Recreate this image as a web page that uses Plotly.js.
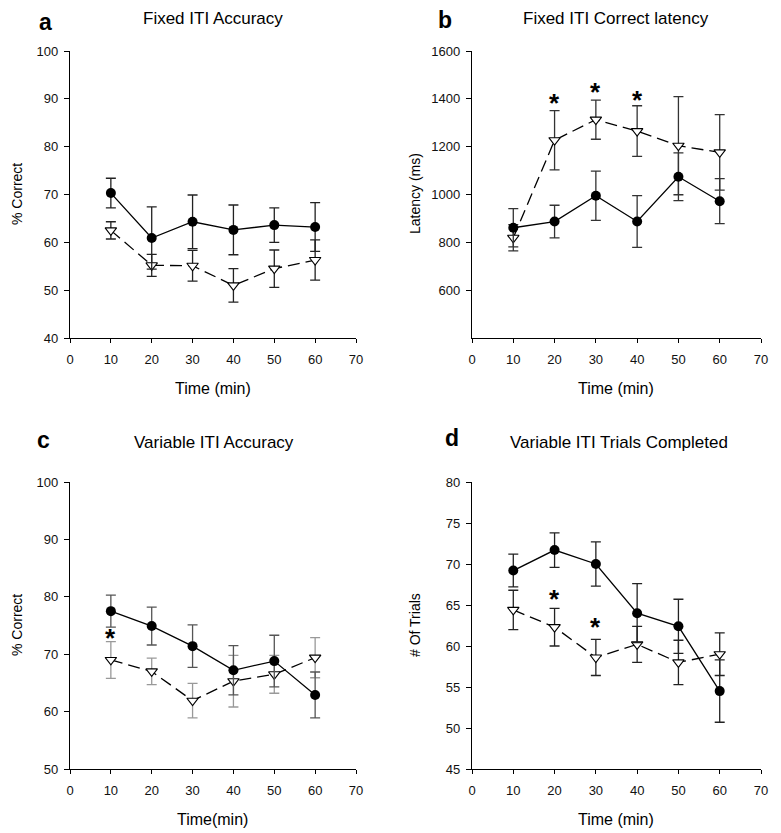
<!DOCTYPE html>
<html>
<head>
<meta charset="utf-8">
<script src="https://cdn.plot.ly/plotly-3.0.1.min.js"></script>
<style>html,body{margin:0;padding:0;background:#fff;}#chart{width:781px;height:833px;}</style>
</head>
<body>
<div id="chart"></div>
<script>
// ---- data ----
var timeMin = [10, 20, 30, 40, 50, 60];

// a: Fixed ITI Accuracy (% correct)
var aCircle = [70.3, 60.9, 64.3, 62.6, 63.6, 63.2];
var aCircleErr = [3.1, 6.5, 5.6, 5.2, 3.6, 5.1];
var aTriangle = [62.5, 55.2, 55.1, 51.0, 54.5, 56.3];
var aTriangleErr = [1.8, 2.3, 3.2, 3.5, 3.9, 4.2];

// b: Fixed ITI Correct latency (ms)
var bCircle = [861, 887, 995, 887, 1074, 972];
var bCircleErr = [80, 68, 103, 108, 100, 94];
var bTriangle = [819, 1227, 1313, 1265, 1204, 1176];
var bTriangleErr = [55, 124, 82, 106, 205, 158];

// c: Variable ITI Accuracy (% correct)
var cCircle = [77.5, 74.9, 71.4, 67.2, 68.8, 62.9];
var cCircleErr = [2.8, 3.3, 3.7, 4.3, 4.5, 4.0];
var cTriangle = [69.0, 67.0, 61.9, 65.3, 66.5, 69.4];
var cTriangleErr = [3.2, 2.3, 3.0, 4.5, 3.3, 3.5];

// d: Variable ITI Trials Completed (# of trials)
var dCircle = [69.2, 71.7, 70.0, 64.0, 62.4, 54.5];
var dCircleErr = [2.0, 2.1, 2.7, 3.6, 3.3, 3.8];
var dTriangle = [64.4, 62.3, 58.6, 60.2, 58.0, 59.0];
var dTriangleErr = [2.4, 2.3, 2.2, 2.2, 2.7, 2.6];

// significance asterisks
var bStarX = [20, 30, 40];
var bStarY = [1409, 1454, 1422];
var cStarX = [10];
var cStarY = [73.8];
var dStarX = [20, 30];
var dStarY = [66.5, 63.0];

// tick labels
var xTicks = [0, 10, 20, 30, 40, 50, 60, 70];
var aTicks = [40, 50, 60, 70, 80, 90, 100];
var bTicks = [600, 800, 1000, 1200, 1400, 1600];
var cTicks = [50, 60, 70, 80, 90, 100];
var dTicks = [45, 50, 55, 60, 65, 70, 75, 80];

// ---- build ----
var FONT = 'Liberation Sans, Arial, sans-serif';

function triTrace(y, err, xa, ya, errColor) {
  return {
    x: timeMin, y: y, xaxis: xa, yaxis: ya, type: 'scatter', mode: 'lines+markers',
    line: {color: '#000', width: 1.3, dash: '12px,6px'},
    marker: {symbol: 'triangle-down', size: 10, color: '#fff', line: {color: '#000', width: 1.1}},
    error_y: {type: 'data', array: err, visible: true, color: errColor, thickness: 1.3, width: 5},
    showlegend: false, hoverinfo: 'x+y'
  };
}
function circTrace(y, err, xa, ya, errColor) {
  return {
    x: timeMin, y: y, xaxis: xa, yaxis: ya, type: 'scatter', mode: 'lines+markers',
    line: {color: '#000', width: 1.3},
    marker: {symbol: 'circle', size: 10, color: '#000'},
    error_y: {type: 'data', array: err, visible: true, color: errColor, thickness: 1.3, width: 5},
    showlegend: false, hoverinfo: 'x+y'
  };
}

var data = [
  triTrace(aTriangle, aTriangleErr, 'x', 'y', '#222'),
  circTrace(aCircle, aCircleErr, 'x', 'y', '#222'),
  triTrace(bTriangle, bTriangleErr, 'x2', 'y2', '#333'),
  circTrace(bCircle, bCircleErr, 'x2', 'y2', '#333'),
  triTrace(cTriangle, cTriangleErr, 'x3', 'y3', '#999'),
  circTrace(cCircle, cCircleErr, 'x3', 'y3', '#555'),
  triTrace(dTriangle, dTriangleErr, 'x4', 'y4', '#222'),
  circTrace(dCircle, dCircleErr, 'x4', 'y4', '#222')
];

function xAxis(domain, anchor) {
  return {
    domain: domain, anchor: anchor, range: [0, 70], tickvals: xTicks,
    showline: true, linecolor: '#000', linewidth: 1.2, ticks: 'outside', ticklen: 4,
    tickcolor: '#000', tickwidth: 1, showgrid: false, zeroline: false,
    tickfont: {family: FONT, size: 13, color: '#111'}, ticklabelstandoff: 5, fixedrange: true
  };
}
function yAxis(domain, anchor, range, ticks) {
  return {
    domain: domain, anchor: anchor, range: range, tickvals: ticks,
    showline: true, linecolor: '#000', linewidth: 1.2, ticks: 'outside', ticklen: 5,
    tickcolor: '#000', tickwidth: 1, showgrid: false, zeroline: false,
    tickfont: {family: FONT, size: 13, color: '#111'}, ticklabelstandoff: 3, fixedrange: true
  };
}

var W = 781, H = 833;
function px(x) { return x / W; }
function py(y) { return 1 - y / H; }

var colL = [px(70), px(356)];
var colR = [px(472), px(761)];
var rowT = [py(338), py(51)];
var rowB = [py(769), py(482)];

var annotations = [];
function txt(text, x, y, size, bold, angle) {
  annotations.push({
    text: bold ? '<b>' + text + '</b>' : text, xref: 'paper', yref: 'paper',
    x: px(x), y: py(y), xanchor: 'center', yanchor: 'middle', showarrow: false,
    textangle: angle || 0, font: {family: FONT, size: size, color: '#000'}
  });
}
// panel letters
txt('a', 45, 22, 23, true);
txt('b', 445, 20, 23, true);
txt('c', 43, 440, 23, true);
txt('d', 452, 438, 23, true);
// panel titles
txt('Fixed ITI Accuracy', 213, 18, 17);
txt('Fixed ITI Correct latency', 616, 18, 17);
txt('Variable ITI Accuracy', 214, 442, 17);
txt('Variable ITI Trials Completed', 619, 442, 17);
// x axis titles
txt('Time (min)', 213, 388, 16);
txt('Time (min)', 616, 388, 16);
txt('Time(min)', 213, 819, 16);
txt('Time (min)', 616, 819, 16);
// y axis titles
txt('% Correct', 17, 194, 14, false, -90);
txt('Latency (ms)', 415, 194, 14, false, -90);
txt('% Correct', 17, 625, 14, false, -90);
txt('# Of Trials', 415, 625, 14, false, -90);

function stars(xs, ys, xr, yr) {
  for (var i = 0; i < xs.length; i++) {
    annotations.push({
      text: '<b>*</b>', x: xs[i], y: ys[i], xref: xr, yref: yr,
      xanchor: 'center', yanchor: 'middle', yshift: -6, showarrow: false,
      font: {family: FONT, size: 26, color: '#000'}
    });
  }
}
stars(bStarX, bStarY, 'x2', 'y2');
stars(cStarX, cStarY, 'x3', 'y3');
stars(dStarX, dStarY, 'x4', 'y4');

var layout = {
  width: W, height: H, margin: {l: 0, r: 0, t: 0, b: 0},
  paper_bgcolor: '#fff', plot_bgcolor: '#fff', showlegend: false,
  font: {family: FONT, color: '#000'},
  xaxis: xAxis(colL, 'y'), yaxis: yAxis(rowT, 'x', [40, 100], aTicks),
  xaxis2: xAxis(colR, 'y2'), yaxis2: yAxis(rowT, 'x2', [400, 1600], bTicks),
  xaxis3: xAxis(colL, 'y3'), yaxis3: yAxis(rowB, 'x3', [50, 100], cTicks),
  xaxis4: xAxis(colR, 'y4'), yaxis4: yAxis(rowB, 'x4', [45, 80], dTicks),
  annotations: annotations
};

Plotly.newPlot('chart', data, layout, {staticPlot: true, displayModeBar: false});
</script>
</body>
</html>
